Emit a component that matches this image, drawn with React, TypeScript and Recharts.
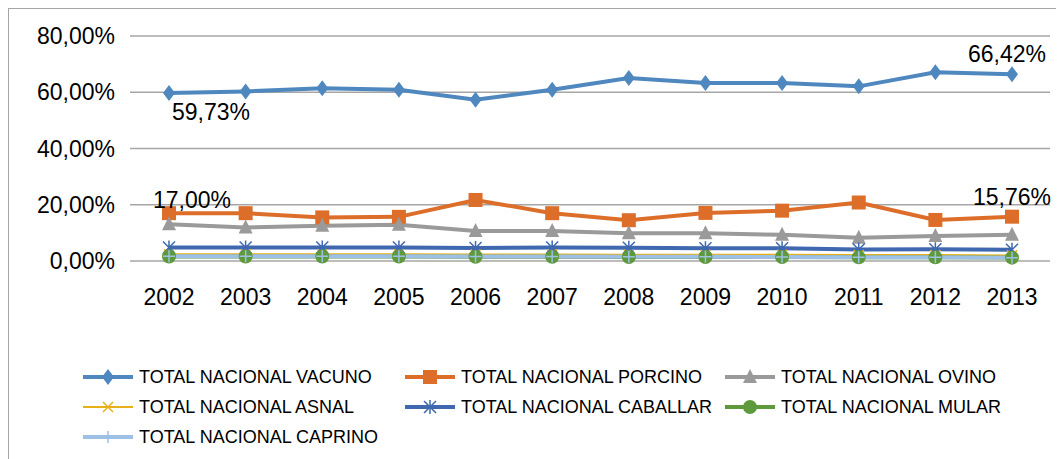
import React from "react";
import { LineChart, Line, XAxis, YAxis, CartesianGrid, Legend } from "recharts";

const years = ["2002", "2003", "2004", "2005", "2006", "2007", "2008", "2009", "2010", "2011", "2012", "2013"];
const vacuno = [59.73, 60.3, 61.4, 60.9, 57.3, 60.9, 65.1, 63.3, 63.3, 62.1, 67.1, 66.42];
const porcino = [17.0, 17.0, 15.5, 15.7, 21.7, 17.0, 14.5, 17.1, 17.9, 20.8, 14.6, 15.76];
const ovino = [13.1, 11.9, 12.5, 12.9, 10.7, 10.7, 9.9, 9.9, 9.3, 8.3, 8.9, 9.3];
const asnal = [2.4, 2.4, 2.4, 2.4, 2.3, 2.3, 2.2, 2.2, 2.2, 2.1, 2.1, 2.0];
const caballar = [4.8, 4.8, 4.8, 4.8, 4.6, 4.8, 4.7, 4.5, 4.5, 4.1, 4.2, 4.0];
const mular = [1.6, 1.6, 1.6, 1.6, 1.5, 1.5, 1.4, 1.4, 1.4, 1.3, 1.3, 1.2];
const caprino = [1.7, 1.7, 1.7, 1.7, 1.6, 1.6, 1.5, 1.5, 1.4, 1.3, 1.3, 1.2];
const yTicks = [0, 20, 40, 60, 80];

const FONT = "'Liberation Sans', Arial, sans-serif";

type Shape = "diamond" | "square" | "triangle" | "x" | "star" | "circle" | "plus";

const seriesDefs: { key: string; name: string; color: string; shape: Shape; width: number; data: number[] }[] = [
  { key: "vacuno", name: "TOTAL NACIONAL VACUNO", color: "#4F87BF", shape: "diamond", width: 4, data: vacuno },
  { key: "porcino", name: "TOTAL NACIONAL PORCINO", color: "#DC6E2A", shape: "square", width: 4, data: porcino },
  { key: "ovino", name: "TOTAL NACIONAL OVINO", color: "#9A9A9A", shape: "triangle", width: 4, data: ovino },
  { key: "asnal", name: "TOTAL NACIONAL ASNAL", color: "#E8B018", shape: "x", width: 2, data: asnal },
  { key: "caballar", name: "TOTAL NACIONAL CABALLAR", color: "#3F68B0", shape: "star", width: 4, data: caballar },
  { key: "mular", name: "TOTAL NACIONAL MULAR", color: "#5E9A3C", shape: "circle", width: 4, data: mular },
  { key: "caprino", name: "TOTAL NACIONAL CAPRINO", color: "#9DC0E4", shape: "plus", width: 4, data: caprino },
];

const rows = years.map((y, i) => {
  const r: Record<string, string | number> = { year: y };
  seriesDefs.forEach((s) => (r[s.key] = s.data[i]));
  return r;
});

const pct = (v: number) => v.toFixed(2).replace(".", ",") + "%";

function marker(shape: Shape, color: string, cx: number, cy: number, k?: string | number) {
  switch (shape) {
    case "diamond":
      return <path key={k} d={`M${cx},${cy - 8} L${cx + 6},${cy} L${cx},${cy + 8} L${cx - 6},${cy} Z`} fill={color} />;
    case "square":
      return <rect key={k} x={cx - 7} y={cy - 7} width={14} height={14} fill={color} />;
    case "triangle":
      return <path key={k} d={`M${cx},${cy - 8} L${cx + 7},${cy + 6} L${cx - 7},${cy + 6} Z`} fill={color} />;
    case "circle":
      return <circle key={k} cx={cx} cy={cy} r={7} fill={color} />;
    case "x":
      return (
        <path key={k} d={`M${cx - 5},${cy - 5} L${cx + 5},${cy + 5} M${cx - 5},${cy + 5} L${cx + 5},${cy - 5}`} stroke={color} strokeWidth={1.5} />
      );
    case "plus":
      return <path key={k} d={`M${cx - 6},${cy} L${cx + 6},${cy} M${cx},${cy - 6} L${cx},${cy + 6}`} stroke={color} strokeWidth={1.5} />;
    case "star":
      return (
        <path
          key={k}
          d={`M${cx - 6},${cy - 6} L${cx + 6},${cy + 6} M${cx - 6},${cy + 6} L${cx + 6},${cy - 6} M${cx},${cy - 7} L${cx},${cy + 7}`}
          stroke={color}
          strokeWidth={1.5}
        />
      );
  }
}

// data labels only at first / last point, positioned like the original
const labelPos: Record<string, Record<number, [number, number]>> = {
  vacuno: { 0: [42, 27], 11: [-5, -12] },
  porcino: { 0: [23, -5], 11: [0, -12] },
};

function makeLabel(key: string) {
  return (props: any) => {
    const { x, y, index, value } = props;
    const pos = labelPos[key]?.[index];
    if (!pos) return null;
    return (
      <text key={`lbl-${key}-${index}`} x={x + pos[0]} y={y + pos[1]} textAnchor="middle" fontSize={23} fontFamily={FONT} fill="#000">
        {pct(Number(value))}
      </text>
    );
  };
}

function LegendBox() {
  return (
    <div style={{ display: "grid", gridTemplateColumns: "322px 320px 300px", rowGap: 12, fontFamily: FONT, fontSize: 18, color: "#000" }}>
      {seriesDefs.map((s) => (
        <div key={s.key} style={{ display: "flex", alignItems: "center", height: 18 }}>
          <svg width={52} height={18} style={{ marginRight: 5 }}>
            <line x1={1} y1={9} x2={51} y2={9} stroke={s.color} strokeWidth={s.width} />
            {marker(s.shape, s.color, 26, 9)}
          </svg>
          <span style={{ whiteSpace: "nowrap" }}>{s.name}</span>
        </div>
      ))}
    </div>
  );
}

export default function App() {
  return (
    <div style={{ width: 1056, height: 451, borderTop: "1px solid #a6a6a6", borderLeft: "1px solid #a6a6a6", background: "#fff", position: "relative" }}>
      <LineChart width={1055} height={450} data={rows} margin={{ top: 27, right: 14, bottom: 0, left: 0 }}>
        <CartesianGrid vertical={false} stroke="#a6a6a6" strokeWidth={1.5} />
        <XAxis
          dataKey="year"
          axisLine={false}
          tickLine={false}
          tickSize={0}
          tickMargin={28}
          height={120}
          padding={{ left: 39, right: 38 }}
          tick={{ fill: "#000", fontSize: 23, fontFamily: FONT }}
        />
        <YAxis
          domain={[0, 80]}
          ticks={yTicks}
          width={121}
          axisLine={false}
          tickLine={false}
          tickSize={0}
          tickMargin={15}
          tickFormatter={(v: number) => pct(v)}
          tick={{ fill: "#000", fontSize: 23, fontFamily: FONT }}
        />
        {seriesDefs.map((s) => (
          <Line
            key={s.key}
            dataKey={s.key}
            name={s.name}
            stroke={s.color}
            strokeWidth={s.width}
            isAnimationActive={false}
            dot={(p: any) => marker(s.shape, s.color, p.cx, p.cy, `${s.key}-${p.index}`) as any}
            activeDot={false}
            label={makeLabel(s.key)}
          />
        ))}
        <Legend content={<LegendBox />} wrapperStyle={{ position: "absolute", left: 73, top: 359, width: 960 }} />
      </LineChart>
    </div>
  );
}
